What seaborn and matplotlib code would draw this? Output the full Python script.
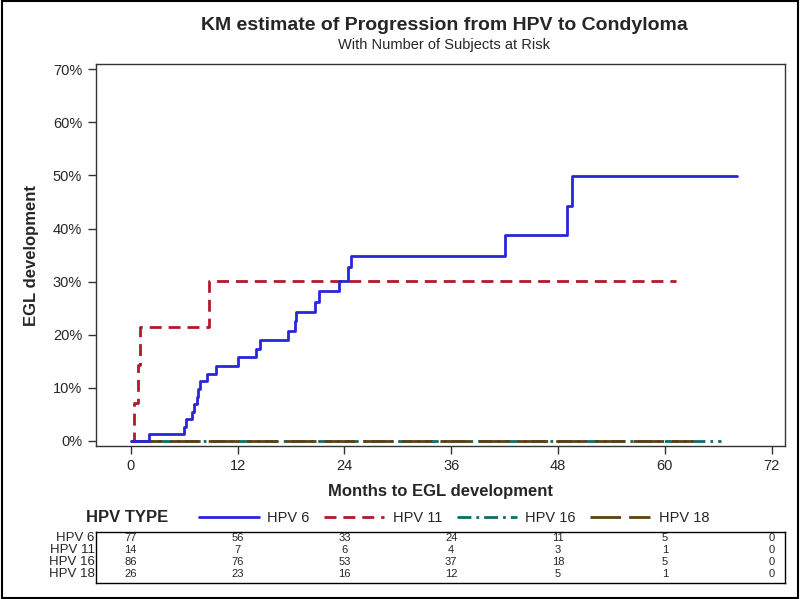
import numpy as np
import pandas as pd
import matplotlib
matplotlib.use("Agg")
import matplotlib.pyplot as plt
import matplotlib.transforms as mtransforms
from matplotlib.lines import Line2D
from matplotlib.patches import Rectangle
import seaborn as sns

sns.set_style("white")
plt.rcParams['font.family'] = ['Liberation Sans', 'DejaVu Sans']

# KM curves (months, cumulative % with EGL)
hpv6_t = [0, 2.1, 6.0, 6.2, 6.9, 7.15, 7.4, 7.6, 7.8, 8.6, 9.6, 12.1, 14.1, 14.5,
          17.7, 18.4, 18.55, 20.7, 21.1, 23.4, 24.4, 24.8, 42.0, 49.0, 49.6, 68.1]
hpv6_p = [0, 1.3, 2.7, 4.1, 5.5, 7.0, 8.3, 9.8, 11.3, 12.7, 14.2, 15.8, 17.3, 19.0,
          20.7, 22.5, 24.3, 26.2, 28.2, 30.2, 32.7, 34.8, 38.8, 44.3, 49.9, 49.9]
hpv11_t = [0, 0.35, 0.85, 1.0, 8.8, 61.2]
hpv11_p = [0, 7.1, 14.3, 21.4, 30.1, 30.1]
hpv16_t = [0, 66.3]
hpv16_p = [0, 0]
hpv18_t = [0, 63.2]
hpv18_p = [0, 0]

types = ['HPV 6', 'HPV 11', 'HPV 16', 'HPV 18']
colors = {'HPV 6': '#2A25D9', 'HPV 11': '#B2182B', 'HPV 16': '#0B6E64', 'HPV 18': '#5E4112'}
dashes = {'HPV 6': '', 'HPV 11': (4.3, 2.5), 'HPV 16': (5, 1.8, 1, 1.8), 'HPV 18': (11, 2.9)}

# number at risk
risk_months = [0, 12, 24, 36, 48, 60, 72]
risk_hpv6 = [77, 56, 33, 24, 11, 5, 0]
risk_hpv11 = [14, 7, 6, 4, 3, 1, 0]
risk_hpv16 = [86, 76, 53, 37, 18, 5, 0]
risk_hpv18 = [26, 23, 16, 12, 5, 1, 0]

frames = []
for name, t, p in [('HPV 6', hpv6_t, hpv6_p), ('HPV 11', hpv11_t, hpv11_p),
                   ('HPV 16', hpv16_t, hpv16_p), ('HPV 18', hpv18_t, hpv18_p)]:
    frames.append(pd.DataFrame({'month': t, 'pct': p, 'type': name}))
df = pd.concat(frames, ignore_index=True)

fig = plt.figure(figsize=(8, 5.99), dpi=100)
ax = fig.add_axes([96 / 800, 1 - 446 / 599, 689 / 800, 382 / 599])

# green under brown, like the reference
order = ['HPV 16', 'HPV 18', 'HPV 11', 'HPV 6']
for name in order:
    sub = df[df['type'] == name]
    sns.lineplot(data=sub, x='month', y='pct', ax=ax, color=colors[name],
                 estimator=None, drawstyle='steps-post', linewidth=2.0,
                 legend=False)
    ln = ax.lines[-1]
    if dashes[name]:
        ln.set_dashes(dashes[name])

ax.set_xlim(-3.9, 73.5)
ax.set_ylim(-0.95, 71.0)
ax.set_xticks(risk_months)
ax.set_xticklabels([str(m) for m in risk_months])
ax.set_yticks(np.arange(0, 71, 10))
ax.set_yticklabels([f'{v}%' for v in range(0, 71, 10)])
ax.tick_params(axis='both', direction='out', length=6, width=1, color='#333333',
               labelsize=10.5, pad=4, bottom=True, left=True)
ax.tick_params(axis='x', pad=3)
for s in ax.spines.values():
    s.set_color('#333333')
    s.set_linewidth(1)
ax.set_xlabel('Months to EGL development', fontsize=12, fontweight='bold', labelpad=8)
ax.set_ylabel('EGL development', fontsize=12, fontweight='bold', labelpad=10)

fig.text(0.555, 1 - 25 / 599, 'KM estimate of Progression from HPV to Condyloma',
         ha='center', va='center', fontsize=14, fontweight='bold')
fig.text(0.555, 1 - 45 / 599, 'With Number of Subjects at Risk',
         ha='center', va='center', fontsize=10.5)

# legend row
fig.text(86 / 800, 1 - 518 / 599, 'HPV TYPE', ha='left', va='center',
         fontsize=12, fontweight='bold')
handles = []
for n in types:
    h = Line2D([0], [0], color=colors[n], lw=2.0)
    if dashes[n]:
        h.set_dashes(dashes[n])
    handles.append(h)
leg = fig.legend(handles, types, loc='center left', bbox_to_anchor=(193 / 800, 1 - 518 / 599),
                 ncol=4, frameon=False, fontsize=10.5, handlelength=4.1,
                 handletextpad=0.6, columnspacing=1.0, borderaxespad=0)

# risk table
axr = fig.add_axes([96 / 800, 1 - 583 / 599, 689 / 800, 51 / 599])
axr.set_xlim(-3.9, 73.5)
axr.set_ylim(0, 1)
axr.set_xticks([])
axr.set_yticks([])
for s in axr.spines.values():
    s.set_color('black')
    s.set_linewidth(1)
rows = [risk_hpv6, risk_hpv11, risk_hpv16, risk_hpv18]
row_y = [0.88, 0.645, 0.41, 0.17]
trans = mtransforms.blended_transform_factory(axr.transAxes, axr.transData)
for name, vals, y in zip(types, rows, row_y):
    axr.text(-0.002, y, name, transform=trans, ha='right', va='center', fontsize=9.5)
    for m, v in zip(risk_months, vals):
        axr.text(m, y, str(v), ha='center', va='center', fontsize=8)

# outer frame
fig.patches.append(Rectangle((0.002, 0.002), 0.996, 0.996, transform=fig.transFigure,
                             fill=False, edgecolor='black', linewidth=1.5))

fig.savefig('out.png', dpi=100)
